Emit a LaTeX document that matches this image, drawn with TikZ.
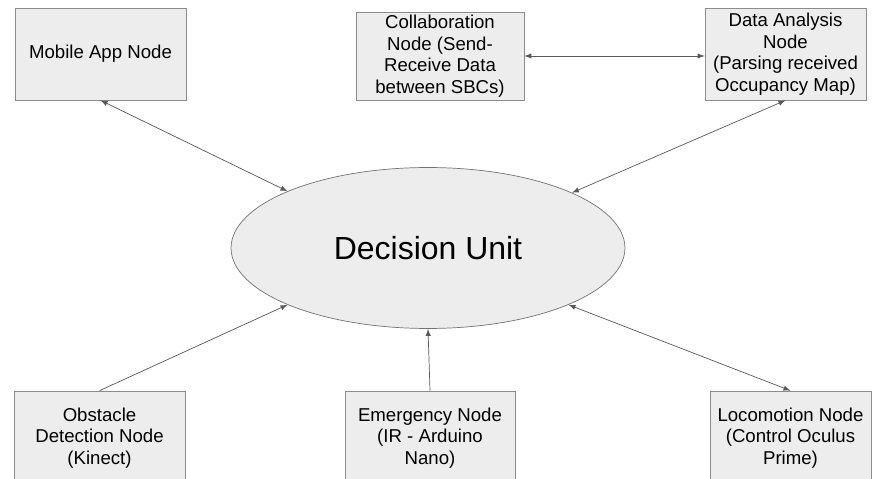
\documentclass[tikz,border=0pt]{standalone}
\usepackage{fontspec}
\setmainfont{Liberation Sans}
\usetikzlibrary{arrows, shapes, positioning}

\tikzset{
  unitbox/.style={draw=black!45, fill=black!7, inner sep=0pt, align=center,
    font=\fontsize{10.6}{12.3}\selectfont},
  link/.style={draw=black!65, thin, latex-latex},
  feed/.style={draw=black!65, thin, -latex}
}

\begin{document}
\begin{tikzpicture}[x=0.02cm, y=-0.02cm]

\useasboundingbox[fill=white] (0,0) rectangle (872,479);

% central unit
\node[ellipse, draw=black!55, fill=black!7, minimum width=7.88cm, minimum height=3.22cm,
  font=\fontsize{18.2}{22}\selectfont] (decision) at (428,248) {Decision Unit};

% upper row
\node[unitbox, minimum width=3.42cm, minimum height=1.84cm] (mobile) at (100.5,54) {Mobile App Node};
\node[unitbox, minimum width=3.36cm, minimum height=1.76cm] (collab) at (440,56)
  {Collaboration\\Node (Send-\\Receive Data\\between SBCs)};
\node[unitbox, minimum width=3.22cm, minimum height=1.84cm] (analysis) at (785.5,54)
  {Data Analysis\\Node\\(Parsing received\\Occupancy Map)};

% lower row
\node[unitbox, minimum width=3.42cm, minimum height=1.88cm] (obstacle) at (99.5,438)
  {Obstacle\\Detection Node\\(Kinect)};
\node[unitbox, minimum width=3.40cm, minimum height=1.88cm] (emergency) at (430,438)
  {Emergency Node\\(IR - Arduino\\Nano)};
\node[unitbox, minimum width=3.22cm, minimum height=1.88cm] (locomotion) at (790.5,438)
  {Locomotion Node\\(Control Oculus\\Prime)};

% connectors
\draw[link] (mobile.south) -- (decision.158);
\draw[link] (collab.east) -- (collab.east -| analysis.west);
\draw[link] (analysis.south) -- (decision.21);
\draw[feed] (obstacle.north) -- (decision.202);
\draw[feed] (emergency.north) -- (decision.south);
\draw[link] (decision.338) -- (locomotion.north);

\end{tikzpicture}
\end{document}
